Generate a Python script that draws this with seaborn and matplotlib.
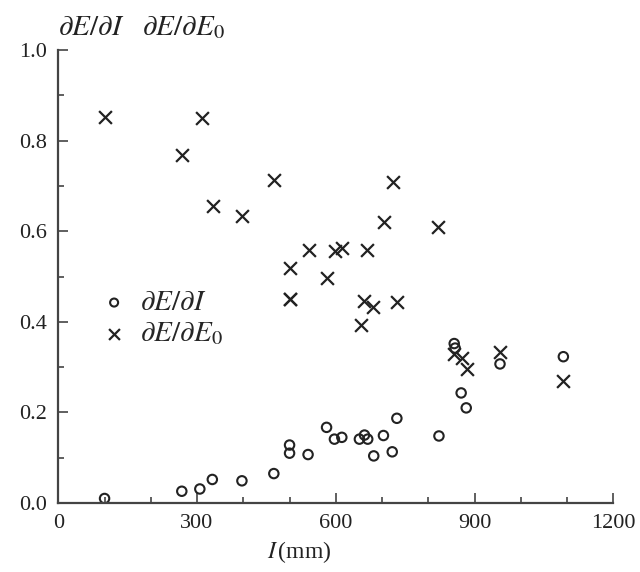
import numpy as np
import pandas as pd
import matplotlib
matplotlib.use("Agg")
import matplotlib.pyplot as plt
from matplotlib.ticker import MultipleLocator
import seaborn as sns

# dE/dI (circles)
circ_I = [100, 267, 306, 333, 397, 466, 500, 500, 540, 580, 597, 613, 651,
          662, 669, 682, 703, 722, 732, 823, 856, 858, 871, 882, 955, 1092]
circ_val = [0.010, 0.026, 0.031, 0.052, 0.049, 0.065, 0.128, 0.110, 0.107,
            0.167, 0.141, 0.145, 0.141, 0.150, 0.141, 0.104, 0.149, 0.113,
            0.187, 0.148, 0.352, 0.342, 0.243, 0.210, 0.307, 0.323]

# dE/dE0 (crosses)
cross_I = [100, 310, 267, 467, 334, 397, 705, 820, 541, 598, 613, 667, 501,
           582, 501, 501, 661, 681, 732, 654, 723, 855, 872, 883, 955, 1092]
cross_val = [0.851, 0.850, 0.768, 0.713, 0.656, 0.634, 0.621, 0.610, 0.558,
             0.556, 0.564, 0.558, 0.518, 0.496, 0.450, 0.450, 0.446, 0.433,
             0.444, 0.394, 0.708, 0.330, 0.320, 0.296, 0.333, 0.270]

LBL_I = r"$\partial E/\partial I$"
LBL_E0 = r"$\partial E/\partial E_0$"

sns.set_style("ticks")
plt.rcParams["font.family"] = ["Liberation Serif", "DejaVu Serif"]
plt.rcParams["mathtext.fontset"] = "stix"

ink = "#222222"
axc = "#444444"

df_c = pd.DataFrame({"I": circ_I, "v": circ_val})
df_x = pd.DataFrame({"I": cross_I, "v": cross_val})

fig = plt.figure(figsize=(6.4, 5.72), dpi=100)
ax = fig.add_axes([0.0911, 0.1206, 0.8672, 0.7920])

sns.scatterplot(data=df_c, x="I", y="v", ax=ax, marker="o", s=46,
                facecolor="none", edgecolor=ink, linewidth=1.5, label=LBL_I)
sns.scatterplot(data=df_x, x="I", y="v", ax=ax, marker="x", s=85,
                color=ink, linewidth=1.6, label=LBL_E0)

ax.set_xlim(0, 1200)
ax.set_ylim(0, 1.0)
ax.xaxis.set_major_locator(MultipleLocator(300))
ax.xaxis.set_minor_locator(MultipleLocator(100))
ax.yaxis.set_major_locator(MultipleLocator(0.2))
ax.yaxis.set_minor_locator(MultipleLocator(0.1))
ax.yaxis.set_major_formatter(plt.FormatStrFormatter("%.1f"))

sns.despine(ax=ax)
for side in ["left", "bottom"]:
    ax.spines[side].set_linewidth(1.6)
    ax.spines[side].set_color(axc)

ax.tick_params(which="major", direction="in", length=7, width=1.2,
               color=axc, labelsize=16, labelcolor=ink, pad=8)
ax.tick_params(which="minor", direction="in", length=4, width=1.2, color=axc)

ax.set_xlabel(r"$I\,$(mm)", fontsize=17, color=ink)
ax.xaxis.set_label_coords(0.434, -0.08)
ax.set_ylabel("")
ax.text(0.0, 1.05, LBL_I + r"$\quad$" + LBL_E0, transform=ax.transAxes,
        ha="left", va="center", fontsize=21, color=ink)

ax.legend(loc="center left", bbox_to_anchor=(0.048, 0.407), frameon=False,
          fontsize=21, handlelength=1.2, handletextpad=0.3,
          labelspacing=0.15, borderaxespad=0, markerscale=0.85)

fig.savefig("out.png", dpi=100)
